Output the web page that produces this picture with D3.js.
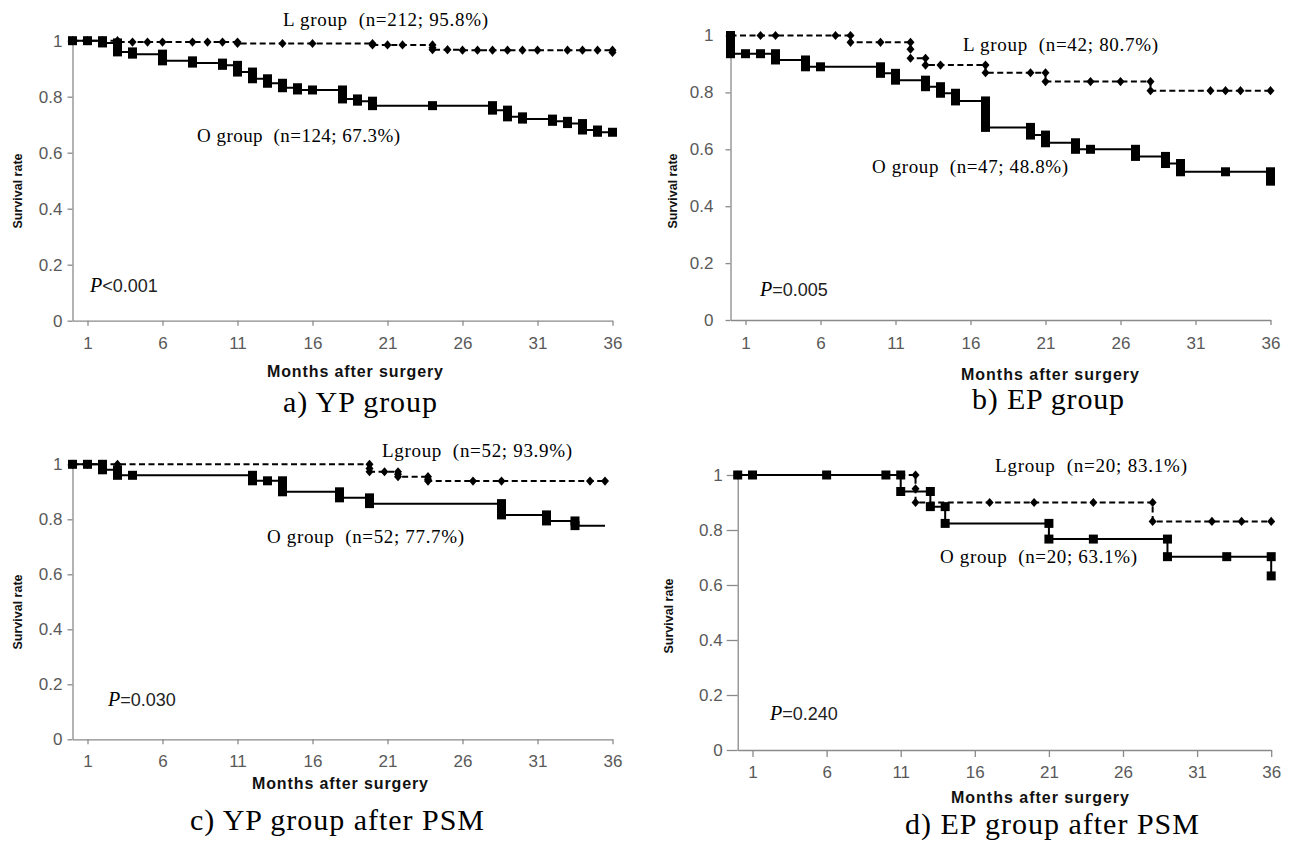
<!DOCTYPE html>
<html>
<head>
<meta charset="utf-8">
<script src="https://cdn.jsdelivr.net/npm/d3@7/dist/d3.min.js"></script>
<style>
  body { margin: 0; background: #fff; }
  .tick text { font-family: "Liberation Sans", Arial, sans-serif; font-size: 17px; fill: #595959; }
  .domain, .tick line { stroke: #8a8a8a; stroke-width: 1.3px; }
  .ser { font-family: "Liberation Serif", "Times New Roman", serif; white-space: pre; }
  .bold { font-family: "Liberation Sans", Arial, sans-serif; font-weight: bold; fill: #111; }
</style>
</head>
<body>
<svg id="chart" width="1289" height="844"></svg>
<script>
const monthTicks = [1, 6, 11, 16, 21, 26, 31, 36];
const rateTicks = [0, 0.2, 0.4, 0.6, 0.8, 1];

// a) YP group  [month, survival]
const ypO = [[0,1],[1,1],[2,1],[2,0.992],[3,0.992],[3,0.976],[3,0.96],[4,0.96],[4,0.952],[6,0.952],[6,0.936],[6,0.928],
  [8,0.928],[8,0.92],[10,0.92],[10,0.912],[11,0.912],[11,0.896],[11,0.888],[12,0.888],[12,0.872],[12,0.864],
  [13,0.864],[13,0.848],[14,0.848],[14,0.832],[15,0.832],[15,0.824],[16,0.824],[18,0.824],[18,0.808],[18,0.792],
  [19,0.792],[19,0.784],[20,0.784],[20,0.776],[20,0.768],[24,0.768],[28,0.768],[28,0.752],[29,0.752],[29,0.736],
  [29,0.728],[30,0.728],[30,0.72],[32,0.72],[32,0.712],[33,0.712],[33,0.704],[34,0.704],[34,0.69],[34,0.681],
  [35,0.681],[35,0.673],[36,0.673]];
const ypL = [[0,1],[1,1],[2,1],[3,1],[3,0.995],[4,0.995],[5,0.995],[6,0.995],[8,0.995],[9,0.995],[10,0.995],
  [11,0.995],[11,0.99],[14,0.99],[16,0.99],[20,0.99],[20,0.985],[21,0.985],[22,0.985],[24,0.985],[24,0.975],
  [24,0.968],[25,0.968],[26,0.966],[27,0.966],[28,0.966],[29,0.966],[30,0.966],[31,0.966],[33,0.966],[34,0.966],
  [35,0.966],[36,0.966],[36,0.958]];

// b) EP group
const epO = [[0,1],[0,0.979],[0,0.957],[0,0.936],[1,0.936],[2,0.936],[3,0.936],[3,0.914],[5,0.914],[5,0.89],
  [6,0.89],[10,0.89],[10,0.867],[11,0.867],[11,0.843],[13,0.843],[13,0.82],[14,0.82],[14,0.797],[15,0.797],
  [15,0.77],[17,0.77],[17,0.747],[17,0.724],[17,0.7],[17,0.677],[20,0.677],[20,0.65],[21,0.65],[21,0.623],
  [23,0.623],[23,0.6],[24,0.6],[27,0.6],[27,0.575],[29,0.575],[29,0.55],[30,0.55],[30,0.521],[33,0.521],
  [36,0.521],[36,0.505],[36,0.488]];
const epL = [[0,1],[2,1],[3,1],[7,1],[8,1],[8,0.976],[10,0.976],[12,0.976],[12,0.952],[12,0.92],[13,0.92],
  [13,0.896],[14,0.896],[17,0.896],[17,0.869],[20,0.869],[21,0.869],[21,0.838],[24,0.838],[26,0.838],[28,0.838],
  [28,0.806],[32,0.806],[33,0.806],[34,0.806],[36,0.806]];

// c) YP group after PSM
const ypPsmO = [[0,1],[1,1],[2,1],[2,0.98],[3,0.98],[3,0.96],[4,0.96],[12,0.96],[12,0.94],[13,0.94],[14,0.94],
  [14,0.92],[14,0.9],[17.8,0.9],[17.8,0.878],[19.8,0.878],[19.8,0.857],[28.6,0.857],[28.6,0.837],[28.6,0.816],
  [31.6,0.816],[31.6,0.794],[33.5,0.794],[33.5,0.777]];
const ypPsmOEnd = 35.5;
const ypPsmL = [[0,1],[1,1],[2,1],[3,1],[19.8,1],[19.8,0.985],[19.8,0.973],[20.8,0.973],[21.7,0.973],[21.7,0.964],
  [21.7,0.955],[23.7,0.955],[23.7,0.946],[23.7,0.939],[26.7,0.939],[28.6,0.939],[34.5,0.939],[35.5,0.939]];

// d) EP group after PSM
const epPsmO = [[0,1],[1,1],[6,1],[10,1],[11,1],[11,0.94],[13,0.94],[13,0.885],[14,0.885],[14,0.824],[21,0.824],
  [21,0.767],[24,0.767],[29,0.767],[29,0.703],[33,0.703],[36,0.703],[36,0.633]];
const epPsmL = [[0,1],[12,1],[12,0.95],[12,0.9],[17,0.9],[20,0.9],[24,0.9],[28,0.9],[28,0.831],[32,0.831],
  [34,0.831],[36,0.831]];

const panels = [
  { x: [72.5, 612.5], y: [320.7, 40.7], O: ypO, L: ypL, yTick: 5, yPad: 5, xTick: 5, xPad: 11,
    yTitle: [18, 191], xTitle: [355, 377, 176], caption: ["a) YP group", 360, 412, 154], p: ["<0.001", 90, 292],
    lab: [["L group  (n=212; 95.8%)", 283, 26, 205], ["O group  (n=124; 67.3%)", 197, 142, 203]] },
  { x: [730.5, 1270.5], y: [320, 35.5], O: epO, L: epL, yTick: 5, yPad: 12, xTick: 5, xPad: 11.5,
    yTitle: [673, 191], xTitle: [1050, 380, 178], caption: ["b) EP group", 1048, 409, 152], p: ["=0.005", 760, 296],
    lab: [["L group  (n=42; 80.7%)", 963, 51, 195], ["O group  (n=47; 48.8%)", 872, 173, 196]] },
  { x: [72.5, 612.5], y: [739.3, 464.3], O: ypPsmO, L: ypPsmL, oEnd: ypPsmOEnd, yTick: 5, yPad: 5, xTick: 5, xPad: 11,
    yTitle: [18, 612], xTitle: [340, 789, 176], caption: ["c) YP group after PSM", 337, 830, 294], p: ["=0.030", 108, 706],
    lab: [["Lgroup  (n=52; 93.9%)", 382, 457, 190], ["O group  (n=52; 77.7%)", 267, 543, 197]] },
  { x: [737.7, 1271.2], y: [750, 475], O: epPsmO, L: epPsmL, yTick: 11, yPad: 4, xTick: 7, xPad: 9,
    yTitle: [669, 616], xTitle: [1040, 803, 178], caption: ["d) EP group after PSM", 1052, 834, 294], p: ["=0.240", 770, 720],
    lab: [["Lgroup  (n=20; 83.1%)", 995, 472, 192], ["O group  (n=20; 63.1%)", 940, 563, 197]] }
];

const svg = d3.select("#chart");
const diamond = "M0,-4.6L4,0L0,4.6L-4,0Z";

panels.forEach(p => {
  const x = d3.scaleLinear().domain([0, 36]).range(p.x);
  const y = d3.scaleLinear().domain([0, 1]).range(p.y);
  const g = svg.append("g");

  g.append("g")
    .attr("transform", `translate(0,${p.y[0]})`)
    .call(d3.axisBottom(x).tickValues(monthTicks).tickSize(p.xTick).tickSizeOuter(0).tickPadding(p.xPad));
  g.append("g")
    .attr("transform", `translate(${p.x[0]},0)`)
    .call(d3.axisLeft(y).tickValues(rateTicks).tickSize(p.yTick).tickSizeOuter(0).tickPadding(p.yPad)
      .tickFormat(d3.format("~g")));

  const line = d3.line().x(d => x(d[0])).y(d => y(d[1])).curve(d3.curveStepAfter);

  // L group: dashed with diamonds
  g.append("path").attr("d", line(p.L))
    .attr("fill", "none").attr("stroke", "#000").attr("stroke-width", 2).attr("stroke-dasharray", "6,3.5");
  g.selectAll(".dia").data(p.L).join("path").attr("class", "dia")
    .attr("d", diamond).attr("transform", d => `translate(${x(d[0])},${y(d[1])})`).attr("fill", "#000");

  // O group: solid with squares
  const oLine = p.oEnd ? p.O.concat([[p.oEnd, p.O[p.O.length - 1][1]]]) : p.O;
  g.append("path").attr("d", line(oLine))
    .attr("fill", "none").attr("stroke", "#000").attr("stroke-width", 2);
  g.selectAll(".sq").data(p.O).join("rect").attr("class", "sq")
    .attr("x", d => x(d[0]) - 4.5).attr("y", d => y(d[1]) - 4.5)
    .attr("width", 9).attr("height", 9).attr("fill", "#000");

  // group labels
  p.lab.forEach(l => {
    g.append("text").attr("class", "ser").attr("x", l[1]).attr("y", l[2])
      .attr("font-size", 19).attr("textLength", l[3]).attr("lengthAdjust", "spacing").text(l[0]);
  });

  // P value
  const pt = g.append("text").attr("x", p.p[1]).attr("y", p.p[2]);
  pt.append("tspan").attr("font-family", "Liberation Serif, serif").attr("font-style", "italic")
    .attr("font-size", 20).text("P");
  pt.append("tspan").attr("font-family", "Liberation Sans, Arial, sans-serif").attr("font-size", 18)
    .attr("fill", "#222").text(p.p[0]);

  // axis titles
  g.append("text").attr("class", "bold").attr("font-size", 12.5).attr("text-anchor", "middle")
    .attr("transform", `translate(${p.yTitle[0] + 4},${p.yTitle[1]}) rotate(-90)`).text("Survival rate");
  g.append("text").attr("class", "bold").attr("font-size", 16).attr("text-anchor", "middle")
    .attr("x", p.xTitle[0]).attr("y", p.xTitle[1])
    .attr("textLength", p.xTitle[2]).attr("lengthAdjust", "spacing").text("Months after surgery");

  // caption
  g.append("text").attr("class", "ser").attr("font-size", 30).attr("text-anchor", "middle")
    .attr("x", p.caption[1]).attr("y", p.caption[2])
    .attr("textLength", p.caption[3]).attr("lengthAdjust", "spacing").text(p.caption[0]);
});
</script>
</body>
</html>
